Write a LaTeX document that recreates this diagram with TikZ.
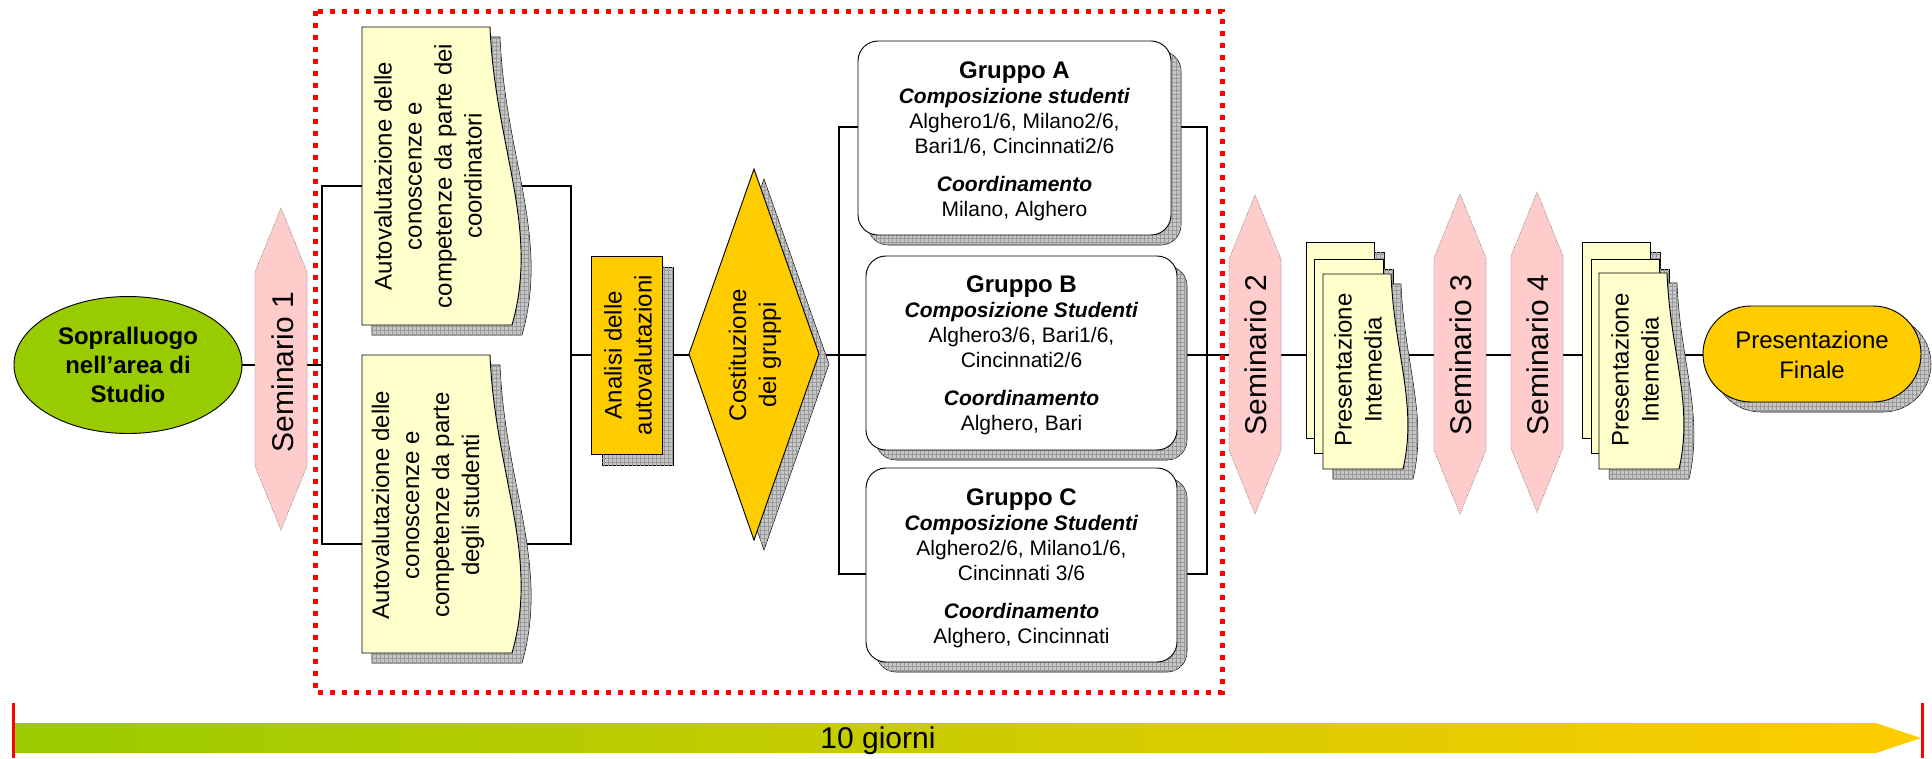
\documentclass[tikz,border=0pt]{standalone}
\usepackage{fontspec}
\setmainfont{Liberation Sans}
\usetikzlibrary{patterns}
\usetikzlibrary{shapes.geometric}
\pgfdeclarelayer{bg}
\pgfsetlayers{bg,main}
\definecolor{leaf}{RGB}{153,204,0}
\definecolor{gold}{RGB}{255,204,0}
\definecolor{cream}{RGB}{255,255,204}
\definecolor{blush}{RGB}{255,204,204}

\begin{document}
\begin{tikzpicture}[x=0.75pt,y=0.75pt,yscale=-1,xscale=1,
  edged/.style={draw=black, line width=0.7pt},
  shadowgrid/.style={fill=black!22, postaction={pattern=grid, pattern color=black!40}},
  semshape/.style={fill=blush, draw=black!60, densely dotted, line width=0.5pt},
  docshape/.style={edged, fill=cream},
  goldshape/.style={edged, fill=gold},
  grpshape/.style={edged, fill=white, rounded corners=15pt},
  conn/.style={draw=black, line width=0.8pt},
  txt/.style={inner sep=0pt, align=center, font=\fontsize{18}{22.5}\selectfont},
  vtxt/.style={txt, rotate=90},
  semtxt/.style={vtxt, font=\fontsize{22.5}{27}\selectfont},
  grptxt/.style={inner sep=0pt, align=center, font=\fontsize{15.75}{18.75}\selectfont},
]
\useasboundingbox (0,0) rectangle (1932,758);

%Shape: Ellipse [Sopralluogo]
\node [ellipse, edged, fill=leaf, minimum width=171pt, minimum height=102.75pt, inner sep=0pt, align=center, font=\fontsize{18}{21.75}\selectfont\bfseries] (sop) at (128,365) {Sopralluogo\\nell’area di\\Studio};

%Shape: Hexagon [Seminario 1]
\draw [semshape] (281,208) -- (307,272) -- (307,466) -- (281,530) -- (255,466) -- (255,272) -- cycle ;

%Shape: Document [coordinatori]
\draw [shadowgrid] (372,37) -- (500,37) .. controls (505,157) and (550,237) .. (522,335) -- (372,335) -- cycle ;
\draw [docshape] (362,27) -- (490,27) .. controls (495,147) and (540,227) .. (512,325) -- (362,325) -- cycle ;
%Shape: Document [studenti]
\draw [shadowgrid] (372,365) -- (500,365) .. controls (505,485) and (550,565) .. (522,663) -- (372,663) -- cycle ;
\draw [docshape] (362,355) -- (490,355) .. controls (495,475) and (540,555) .. (512,653) -- (362,653) -- cycle ;

%Shape: Rectangle [Analisi]
\draw [shadowgrid] (602,267) rectangle (673,465) ;
\draw [goldshape] (591,256) rectangle (662,454) ;

%Shape: Diamond [Costituzione]
\draw [shadowgrid] (764,179) -- (829,364) -- (764,550) -- (699,364) -- cycle ;
\draw [goldshape] (754,169) -- (819,354) -- (754,540) -- (689,354) -- cycle ;

%Shape: Rounded Rectangle [Gruppo A]
\draw [shadowgrid, rounded corners=15pt] (868,51) rectangle (1181,245) ;
\draw [grpshape] (858,41) rectangle (1171,235) ;
%Shape: Rounded Rectangle [Gruppo B]
\draw [shadowgrid, rounded corners=15pt] (876,266) rectangle (1187,460) ;
\draw [grpshape] (866,256) rectangle (1177,450) ;
%Shape: Rounded Rectangle [Gruppo C]
\draw [shadowgrid, rounded corners=15pt] (876,478) rectangle (1187,672) ;
\draw [grpshape] (866,468) rectangle (1177,662) ;

%Shape: Hexagon [Seminario 2]
\draw [semshape] (1255,195) -- (1281,259) -- (1281,450) -- (1255,514) -- (1229,450) -- (1229,259) -- cycle ;

%Shape: Multi Document [Presentazione 1]
\draw [shadowgrid] (1316,252) rectangle (1384,448) ;
\draw [docshape] (1306,242) rectangle (1374,438) ;
\draw [shadowgrid] (1324,269) rectangle (1393,463) ;
\draw [docshape] (1314,259) rectangle (1383,453) ;
\draw [shadowgrid] (1333,284) -- (1401,284) .. controls (1404,362) and (1428,415) .. (1413,479) -- (1333,479) -- cycle ;
\draw [docshape] (1323,274) -- (1391,274) .. controls (1394,352) and (1418,405) .. (1403,469) -- (1323,469) -- cycle ;

%Shape: Hexagon [Seminario 3]
\draw [semshape] (1460,194) -- (1486,258) -- (1486,450) -- (1460,514) -- (1434,450) -- (1434,258) -- cycle ;
%Shape: Hexagon [Seminario 4]
\draw [semshape] (1537,192) -- (1563,256) -- (1563,448) -- (1537,512) -- (1511,448) -- (1511,256) -- cycle ;

%Shape: Multi Document [Presentazione 2]
\draw [shadowgrid] (1592,252) rectangle (1660,448) ;
\draw [docshape] (1582,242) rectangle (1650,438) ;
\draw [shadowgrid] (1601,269) rectangle (1669,463) ;
\draw [docshape] (1591,259) rectangle (1659,453) ;
\draw [shadowgrid] (1609,283) -- (1677,283) .. controls (1680,361) and (1704,414) .. (1689,479) -- (1609,479) -- cycle ;
\draw [docshape] (1599,273) -- (1667,273) .. controls (1670,351) and (1694,404) .. (1679,469) -- (1599,469) -- cycle ;

%Shape: Terminator [Finale]
\draw [shadowgrid, rounded corners=36pt] (1713,316) rectangle (1931,412) ;
\draw [goldshape, rounded corners=36pt] (1703,306) rectangle (1921,402) ;

%Shape: Arrow [giorni]
\shade [left color=leaf, right color=gold] (15,723) -- (1876,723) -- (1921,738) -- (1876,753) -- (15,753) -- cycle ;
\draw [red, line width=2.25pt] (13,703) -- (13,758) ;
\draw [red, line width=2.25pt] (1922,703) -- (1922,758) ;

% Text Node
\node [semtxt] (s1) at (283,372) {Seminario 1};
% Text Node
\node [vtxt] (box1) at (428,176) {Autovalutazione delle\\conoscenze e\\competenze da parte dei\\coordinatori};
% Text Node
\node [vtxt] (box2) at (428,505) {Autovalutazione delle\\conoscenze e\\competenze da parte\\degli studenti};
% Text Node
\node [vtxt] (ana) at (628,355) {Analisi delle\\autovalutazioni};
% Text Node
\node [vtxt] (dia) at (755,355) {Costituzione\\dei gruppi};
% Text Node
\node [grptxt] (gA) at (1014.5,141) {{\fontsize{18}{18.75}\selectfont\bfseries Gruppo A}\\\textbf{\textit{Composizione studenti}}\\Alghero1/6, Milano2/6,\\Bari1/6, Cincinnati2/6\\[9.5pt]\textbf{\textit{Coordinamento}}\\Milano, Alghero};
% Text Node
\node [grptxt] (gB) at (1021.5,355) {{\fontsize{18}{18.75}\selectfont\bfseries Gruppo B}\\\textbf{\textit{Composizione Studenti}}\\Alghero3/6, Bari1/6,\\Cincinnati2/6\\[9.5pt]\textbf{\textit{Coordinamento}}\\Alghero, Bari};
% Text Node
\node [grptxt] (gC) at (1021.5,568) {{\fontsize{18}{18.75}\selectfont\bfseries Gruppo C}\\\textbf{\textit{Composizione Studenti}}\\Alghero2/6, Milano1/6,\\Cincinnati 3/6\\[9.5pt]\textbf{\textit{Coordinamento}}\\Alghero, Cincinnati};
% Text Node
\node [semtxt] (s2) at (1256,355) {Seminario 2};
% Text Node
\node [vtxt] (pi1) at (1358,370) {Presentazione\\Intemedia};
% Text Node
\node [semtxt] (s3) at (1461,355) {Seminario 3};
% Text Node
\node [semtxt] (s4) at (1538,355) {Seminario 4};
% Text Node
\node [vtxt] (pi2) at (1635,370) {Presentazione\\Intemedia};
% Text Node
\node [txt] (fin) at (1812,355) {Presentazione\\Finale};
% Text Node
\node [inner sep=0pt, font=\fontsize{22.5}{27}\selectfont] (span) at (878,741) {10 giorni};

%Joints
\coordinate (j1) at (322,365);
\coordinate (j2) at (571,355);
\coordinate (j3) at (839,355);
\coordinate (j4) at (1207,355);
\coordinate (b1l) at (362,186);
\coordinate (b1r) at (512,186);
\coordinate (b2l) at (362,544);
\coordinate (b2r) at (521,544);
\coordinate (gal) at (858,127);
\coordinate (gar) at (1171,127);
\coordinate (gcl) at (866,574);
\coordinate (gcr) at (1177,574);

%Straight Lines
\begin{pgfonlayer}{bg}
\draw [conn] (sop) -- (j1) ;
\draw [conn] (b1l) -| (j1) |- (b2l) ;
\draw [conn] (b1r) -| (j2) |- (b2r) ;
\draw [conn] (j2) -- (ana) -- (dia) -- (j3) ;
\draw [conn] (gal) -| (j3) |- (gcl) ;
\draw [conn] (j3) -- (gB) -- (j4) ;
\draw [conn] (gar) -| (j4) |- (gcr) ;
\draw [conn] (j4) -- (s2) -- (s2 -| pi1) -- (s3) -- (s4) -- (s4 -| pi2) -- (fin) ;
\end{pgfonlayer}

%Shape: Rectangle [dotted frame]
\draw [red, line width=3.75pt, dash pattern=on 3.75pt off 5.25pt] (315,11) rectangle (1222,692) ;

\end{tikzpicture}
\end{document}
